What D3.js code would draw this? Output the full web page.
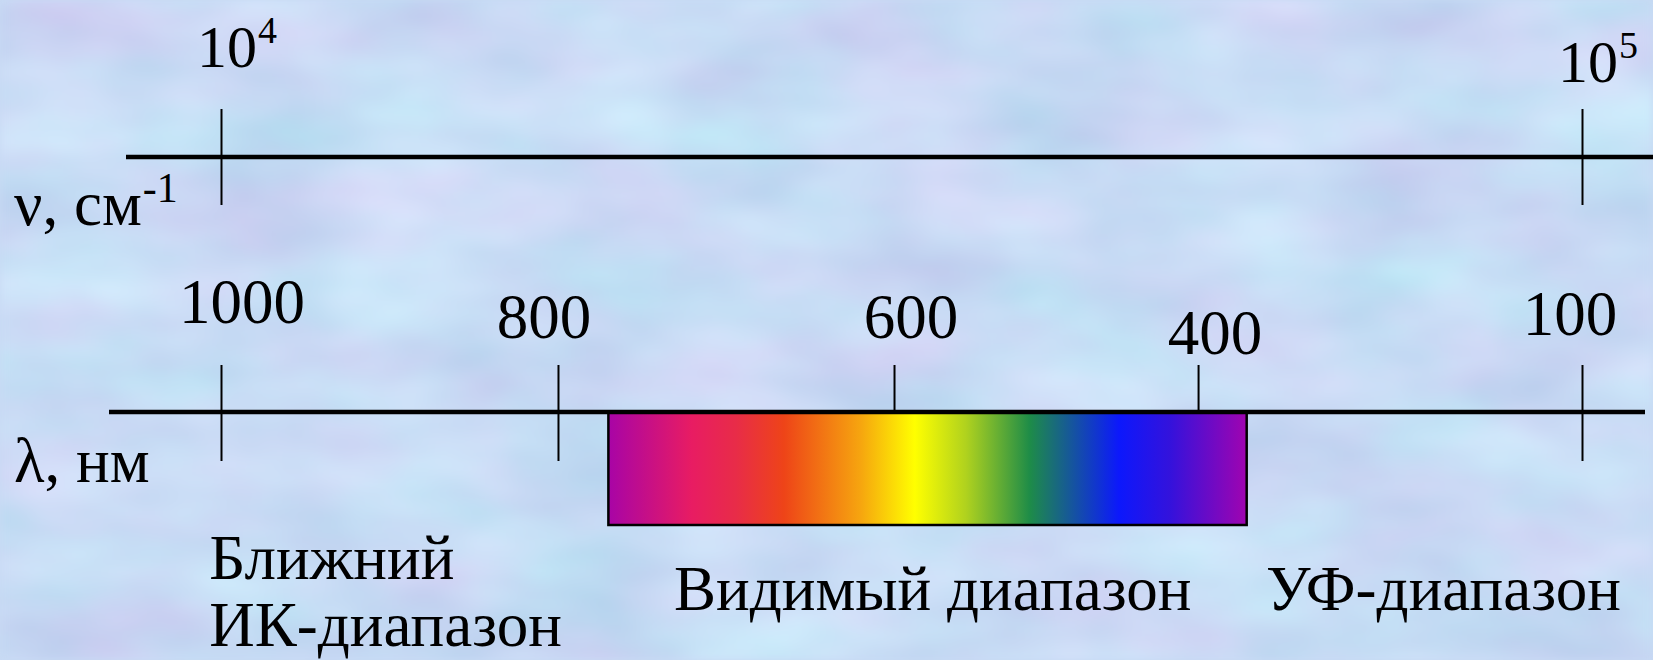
<!DOCTYPE html>
<html><head><meta charset="utf-8">
<script src="https://cdn.jsdelivr.net/npm/d3@7"></script>
<style>html,body{margin:0;padding:0;overflow:hidden;background:#c8daf4}
text{font-family:"Liberation Serif","Times New Roman",serif;fill:#000}</style>
</head><body><svg id="chart" width="1653" height="660"></svg>
<script>
// ---------- data ----------
const wavenumberTicks = [1e4, 1e5];
const wavenumberExponents = ["4", "5"];
const wavelengthTicks = [1000, 800, 600, 400, 100];
const wavelengthTickLabels = ["1000", "800", "600", "400", "100"];
const visibleRange = [770, 362];
const regionNames = [["Ближний", "ИК-диапазон"], ["Видимый диапазон"], ["УФ-диапазон"]];
const regionAnchors = [1007, 731, 347]; // wavelength where each label starts
const spectrumOffsets = [0, 0.13, 0.2, 0.275, 0.395, 0.48, 0.56, 0.66, 0.8, 0.88, 1];
const spectrumColors = ["#a804a6", "#e81c63", "#e82c48", "#ee4418", "#f6a50f", "#ffff00", "#b0d21e", "#1e8c48", "#0c18fc", "#3412dc", "#a004b0"];

// ---------- layout ----------
const W = 1653, H = 660;
const xL = 221, xR = 1582;
const lambdaFrac = [0, 0.2476, 0.4945, 0.7179, 1];
const topY = 157, botY = 412, tickHalf = 48;
const rectBottom = 525;
const fs = 63, topFs = 60, supFs = 38;
const topLabelNudge = [{dx: -24, y: 67}, {dx: -24, y: 82}];
const botLabelNudge = [{dx: 21, dy: -89}, {dx: -14, dy: -74}, {dx: 17, dy: -74}, {dx: 17, dy: -58}, {dx: -12, dy: -77}];
const regionY = [[579, 646], [610], [610]];

const svg = d3.select("#chart");
const defs = svg.append("defs");

// background texture
const f = defs.append("filter").attr("id", "bgtex").attr("filterUnits", "userSpaceOnUse")
  .attr("color-interpolation-filters", "sRGB")
  .attr("x", 0).attr("y", 0).attr("width", W).attr("height", H);
f.append("feTurbulence").attr("type", "fractalNoise").attr("baseFrequency", "0.006 0.012")
  .attr("numOctaves", 3).attr("seed", 5).attr("result", "n");
f.append("feColorMatrix").attr("in", "n").attr("type", "matrix")
  .attr("values", "0.10 0.14 0 0 0.665  -0.08 0.14 0 0 0.83  0 0.08 0 0 0.92  0 0 0 0 1").attr("result", "c");
f.append("feGaussianBlur").attr("in", "c").attr("stdDeviation", "4 3");
svg.append("rect").attr("width", W).attr("height", H).attr("fill", "#c8daf4");
svg.append("rect").attr("width", W).attr("height", H).attr("filter", "url(#bgtex)");

const grad = defs.append("linearGradient").attr("id", "spec").attr("x1", "0%").attr("x2", "100%");
grad.selectAll("stop").data(spectrumOffsets).join("stop")
  .attr("offset", d => d).attr("stop-color", (d, i) => spectrumColors[i]);

// scales
const nu = d3.scaleLog().domain([1e4, 1e5]).range([xL, xR]);
const lam = d3.scaleLinear().domain(wavelengthTicks).range(lambdaFrac.map(t => xL + t * (xR - xL)));

// ---- top axis (wavenumber) ----
svg.append("line").attr("x1", 126).attr("x2", W).attr("y1", topY).attr("y2", topY)
  .attr("stroke", "#000").attr("stroke-width", 4.5);
const gTop = svg.append("g").attr("transform", `translate(0,${topY - tickHalf})`)
  .call(d3.axisBottom(nu).tickValues(wavenumberTicks).tickSize(tickHalf * 2).tickFormat(""));
gTop.select(".domain").remove();
gTop.selectAll(".tick line").attr("stroke", "#000").attr("stroke-width", 2);

wavenumberTicks.forEach((v, i) => {
  const t = svg.append("text").attr("x", nu(v) + topLabelNudge[i].dx).attr("y", topLabelNudge[i].y)
    .attr("font-size", topFs);
  t.append("tspan").text("10");
  t.append("tspan").attr("dx", 1).attr("dy", -24).attr("font-size", supFs).text(wavenumberExponents[i]);
});

const nuTitle = svg.append("text").attr("x", 14).attr("y", 225).attr("font-size", fs);
nuTitle.append("tspan").text("ν, см");
nuTitle.append("tspan").attr("dx", 1).attr("dy", -23).attr("font-size", 42).text("-1");

// ---- bottom axis (wavelength) ----
svg.append("line").attr("x1", 109).attr("x2", 1645).attr("y1", botY).attr("y2", botY)
  .attr("stroke", "#000").attr("stroke-width", 4.5);
const gBot = svg.append("g").attr("transform", `translate(0,${botY - tickHalf + 1})`)
  .call(d3.axisBottom(lam).tickValues(wavelengthTicks).tickSize(tickHalf * 2).tickFormat(""));
gBot.select(".domain").remove();
gBot.selectAll(".tick line").attr("stroke", "#000").attr("stroke-width", 2);

svg.selectAll("text.wl").data(wavelengthTicks).join("text").attr("class", "wl")
  .attr("x", (d, i) => lam(d) + botLabelNudge[i].dx)
  .attr("y", (d, i) => botY + botLabelNudge[i].dy)
  .attr("text-anchor", "middle").attr("font-size", fs)
  .text((d, i) => wavelengthTickLabels[i]);

svg.append("text").attr("x", 14).attr("y", 482).attr("font-size", fs).text("λ, нм");

// visible spectrum bar
svg.append("rect")
  .attr("x", lam(visibleRange[0])).attr("y", botY + 1)
  .attr("width", lam(visibleRange[1]) - lam(visibleRange[0]))
  .attr("height", rectBottom - botY - 1)
  .attr("fill", "url(#spec)").attr("stroke", "#000").attr("stroke-width", 2.5);

// region labels
regionNames.forEach((lines, i) => {
  lines.forEach((s, j) => {
    svg.append("text").attr("class", "region").attr("x", lam(regionAnchors[i])).attr("y", regionY[i][j])
      .attr("font-size", fs).text(s);
  });
});
</script></body></html>
